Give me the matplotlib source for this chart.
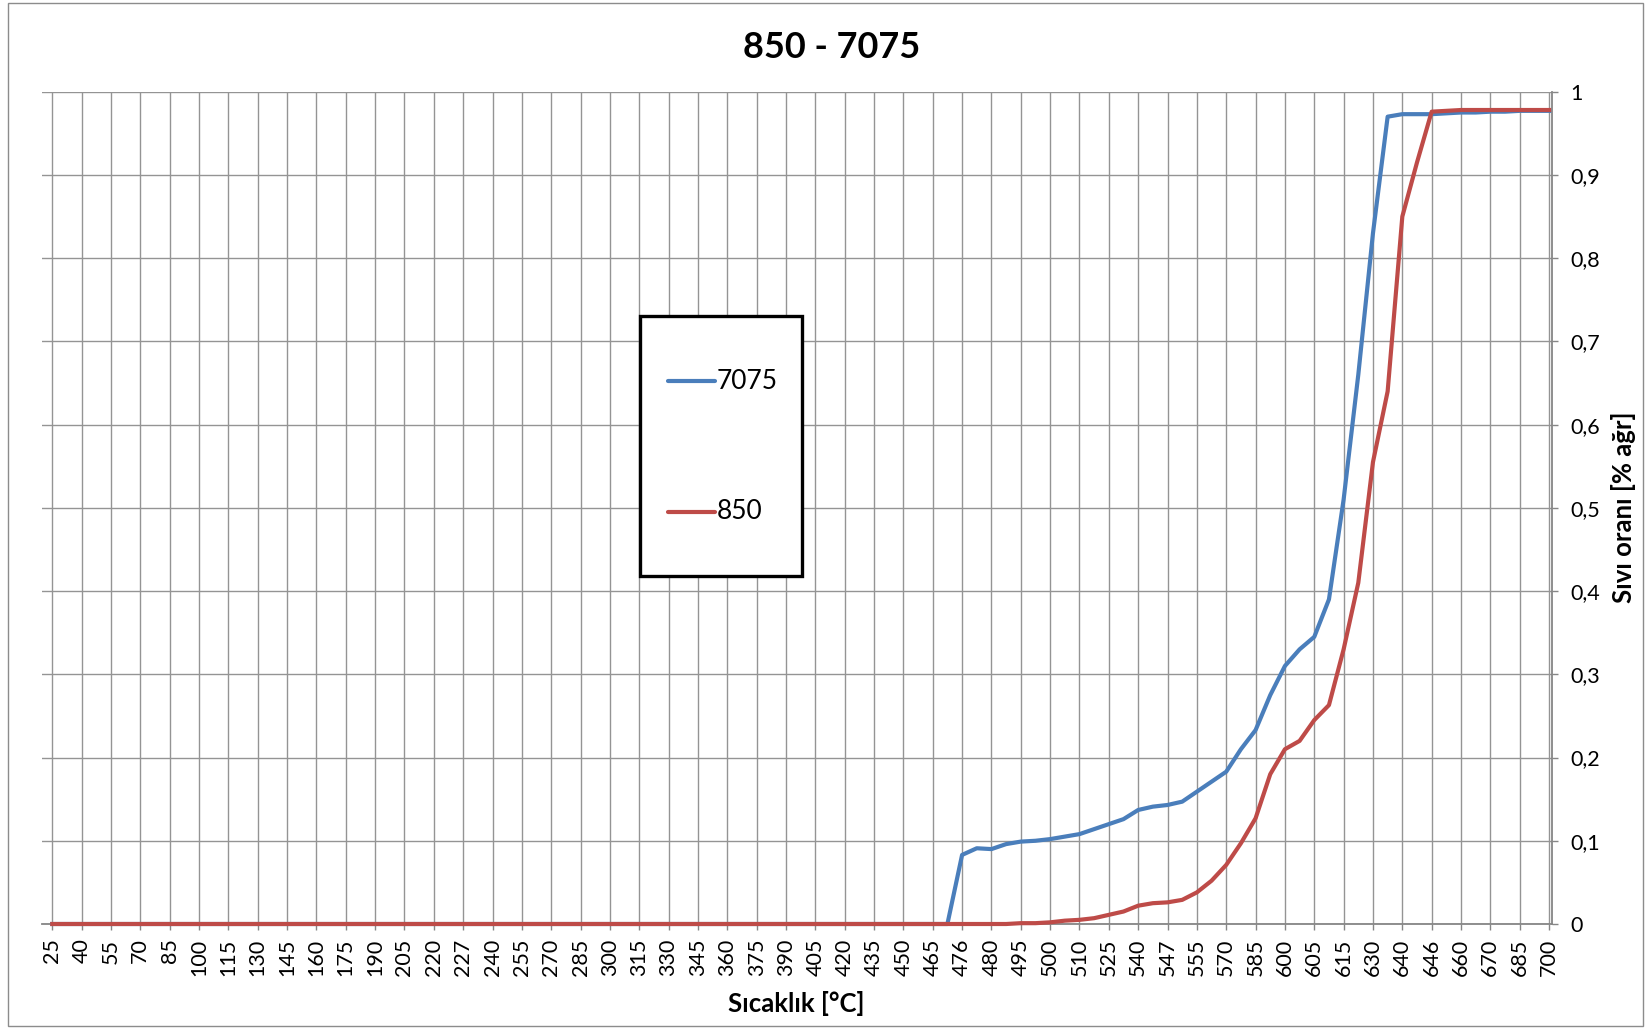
import matplotlib

matplotlib.use("Agg")
import numpy as np
from matplotlib import pyplot as plt
from matplotlib.lines import Line2D
from matplotlib.patches import Rectangle

# kategori etiketleri (x ekseni)
temps = [25, 40, 55, 70, 85, 100, 115, 130, 145, 160, 175, 190, 205, 220, 227, 240,
         255, 270, 285, 300, 315, 330, 345, 360, 375, 390, 405, 420, 435, 450, 465,
         476, 480, 495, 500, 510, 525, 540, 547, 555, 570, 585, 600, 605, 615, 630,
         640, 646, 660, 670, 685, 700]

y_ticks = [0, 0.1, 0.2, 0.3, 0.4, 0.5, 0.6, 0.7, 0.8, 0.9, 1.0]
y_tick_labels = ["0", "0,1", "0,2", "0,3", "0,4", "0,5", "0,6", "0,7", "0,8", "0,9", "1"]

# sıvı oranı, yarım kategori adımlarıyla (25 ... 700); 465'e kadar sıfır
liq_7075 = [0.0] * 60 + [
    0.0, 0.0, 0.083, 0.091, 0.090, 0.096, 0.099, 0.100, 0.102, 0.105, 0.108,
    0.114, 0.120, 0.126, 0.137, 0.141, 0.143, 0.147, 0.159, 0.171, 0.183, 0.210,
    0.233, 0.275, 0.310, 0.330, 0.345, 0.390, 0.510, 0.660, 0.830, 0.970, 0.973,
    0.973, 0.973, 0.974, 0.975, 0.975, 0.976, 0.976, 0.977, 0.977, 0.977,
]
liq_850 = [0.0] * 60 + [
    0.0, 0.0, 0.0, 0.0, 0.0, 0.0, 0.001, 0.001, 0.002, 0.004, 0.005,
    0.007, 0.011, 0.015, 0.022, 0.025, 0.026, 0.029, 0.038, 0.052, 0.071, 0.097,
    0.127, 0.180, 0.210, 0.220, 0.245, 0.263, 0.330, 0.410, 0.555, 0.640, 0.850,
    0.915, 0.976, 0.977, 0.978, 0.978, 0.978, 0.978, 0.978, 0.978, 0.978,
]

BLUE = "#4A7EBB"
RED = "#BE4B48"
GRID = "#949494"
AXIS = "#868686"

plt.rcParams["font.family"] = ["Lato", "DejaVu Sans"]

W, H = 1645, 1029
fig = plt.figure(figsize=(W / 100, H / 100), dpi=100)
ax = fig.add_axes([42 / W, 1 - 924 / H, 1510 / W, (924 - 91.7) / H])

x = np.arange(len(liq_7075)) / 2
series = [("7075", liq_7075, BLUE), ("850", liq_850, RED)]
for i, (name, values, color) in enumerate(series):
    ax.plot(x, values, color=color, lw=3.0, label=name, clip_on=False, zorder=3 + i)

ax.set_xlim(-0.35, 51.1)
ax.set_ylim(0, 1)

ax.set_xticks(range(len(temps)))
ax.set_xticklabels([str(t) for t in temps], rotation=90)
ax.set_yticks(y_ticks)
ax.set_yticklabels(y_tick_labels)
ax.yaxis.tick_right()

ax.grid(True, color=GRID, lw=1.0)
ax.set_axisbelow(True)
for side in ("top", "left"):
    ax.spines[side].set_visible(False)
for side in ("bottom", "right"):
    ax.spines[side].set_color(AXIS)
    ax.spines[side].set_linewidth(1.3)

ax.tick_params(axis="x", direction="out", length=4.5, width=1, color=AXIS,
               pad=6, labelsize=15.5)
ax.tick_params(axis="y", direction="out", length=4.5, width=1, color=AXIS,
               pad=9, labelsize=15.5, right=True, left=False)

# lejant: kalın siyah çerçeveli kutu, iki satır
fig.patches.append(Rectangle((640 / W, 1 - 576 / H), (802 - 640) / W, (576 - 316) / H,
                             transform=fig.transFigure, facecolor="white",
                             edgecolor="black", lw=2.4, zorder=5))
for (name, _, color), ypix in zip(series, (381, 512)):
    fig.add_artist(Line2D([668 / W, 715 / W], [1 - ypix / H] * 2, color=color,
                          lw=3.0, solid_capstyle="round", zorder=6))
    fig.text(717 / W, 1 - ypix / H, name, ha="left", va="center", fontsize=19,
             zorder=6)

fig.text(832 / W, 1 - 47 / H, "850 - 7075", ha="center", va="center",
         fontsize=26, fontweight="bold")
fig.text(796 / W, 1 - 1003 / H, "Sıcaklık [°C]", ha="center", va="center",
         fontsize=18.5, fontweight="bold")
fig.text(1624 / W, 1 - 507 / H, "Sıvı oranı [% ağr]", ha="center", va="center",
         rotation=90, fontsize=18.5, fontweight="bold")

# grafik alanı çerçevesi
fig.patches.append(Rectangle((8 / W, 3 / H), (1643 - 8) / W, (1026 - 3) / H,
                             transform=fig.transFigure, fill=False,
                             edgecolor="#8c8c8c", lw=1))

fig.savefig("out.png", dpi=100)
